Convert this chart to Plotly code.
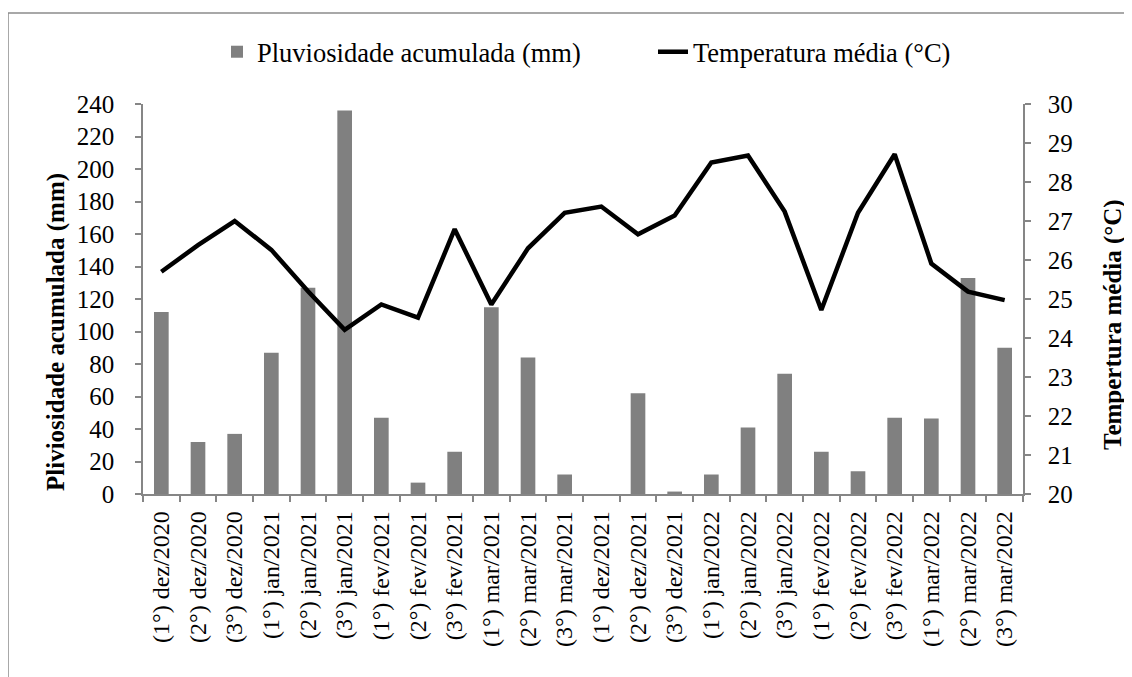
import plotly.graph_objects as go

categories = [
    "(1°) dez/2020", "(2°) dez/2020", "(3°) dez/2020",
    "(1°) jan/2021", "(2°) jan/2021", "(3°) jan/2021",
    "(1°) fev/2021", "(2°) fev/2021", "(3°) fev/2021",
    "(1°) mar/2021", "(2°) mar/2021", "(3°) mar/2021",
    "(1°) dez/2021", "(2°) dez/2021", "(3°) dez/2021",
    "(1°) jan/2022", "(2°) jan/2022", "(3°) jan/2022",
    "(1°) fev/2022", "(2°) fev/2022", "(3°) fev/2022",
    "(1°) mar/2022", "(2°) mar/2022", "(3°) mar/2022",
]
rain_mm = [112, 32, 37, 87, 127, 236, 47, 7, 26, 115, 84, 12,
           0, 62, 1.5, 12, 41, 74, 26, 14, 47, 46.5, 133, 90]
temp_c = [25.70, 26.38, 27.00, 26.26, 25.20, 24.21, 24.86, 24.52, 26.79, 24.86, 26.30, 27.21,
          27.37, 26.66, 27.14, 28.50, 28.68, 27.24, 24.72, 27.21, 28.71, 25.91, 25.19, 24.97]

left_ticks = list(range(0, 241, 20))
right_ticks = list(range(20, 31, 1))

FONT = "Liberation Serif, Times New Roman, serif"
AX = "#868686"

# page body has an 8px margin: work in reference (viewport) pixels, shift by OFF
OFF = 8
W, H = 1132 - OFF, 677 - OFF
L, T = 143 - OFF, 104 - OFF
R = W - (1023 - OFF)
B = H - (494 - OFF)
pw = W - L - R
ph = H - T - B

def px_x(x):
    return (x - OFF - L) / pw

def px_y(y):
    return (H - B - (y - OFF)) / ph

fig = go.Figure()
fig.add_trace(go.Bar(
    x=categories, y=rain_mm, name="Pluviosidade acumulada (mm)",
    marker=dict(color="#808080", line=dict(width=0)), width=0.4,
    yaxis="y",
))
fig.add_trace(go.Scatter(
    x=categories, y=temp_c, name="Temperatura média (°C)",
    mode="lines", line=dict(color="black", width=4.5),
    yaxis="y2",
))

fig.update_layout(
    width=W, height=H,
    margin=dict(l=L, r=R, t=T, b=B, autoexpand=False),
    paper_bgcolor="white", plot_bgcolor="white",
    font=dict(family=FONT, color="black", size=25),
    showlegend=True,
    legend=dict(
        orientation="h", x=px_x(217), xanchor="left", y=px_y(52), yanchor="middle",
        font=dict(family=FONT, size=26.5, color="black"),
        bgcolor="rgba(0,0,0,0)", traceorder="normal",
        itemwidth=30, entrywidth=391, entrywidthmode="pixels",
    ),
    xaxis=dict(
        type="category", tickangle=-90, tickson="boundaries",
        ticks="outside", ticklen=6, tickcolor=AX, tickwidth=1.5,
        showline=True, linecolor=AX, linewidth=1.5,
        showgrid=False, zeroline=False,
        tickfont=dict(family=FONT, size=24, color="black"),
        ticklabelstandoff=6,
        range=[-0.5, len(categories) - 0.5],
    ),
    yaxis=dict(
        range=[0, 240], tickvals=left_ticks,
        ticks="outside", ticklen=6, tickcolor=AX, tickwidth=1.5,
        showline=True, linecolor=AX, linewidth=1.5,
        showgrid=False, zeroline=False,
        tickfont=dict(family=FONT, size=25, color="black"),
        ticklabelstandoff=16,
    ),
    yaxis2=dict(
        range=[20, 30], tickvals=right_ticks,
        overlaying="y", side="right",
        ticks="outside", ticklen=6, tickcolor=AX, tickwidth=1.5,
        showline=True, linecolor=AX, linewidth=1.5,
        showgrid=False, zeroline=False,
        tickfont=dict(family=FONT, size=25, color="black"),
        ticklabelstandoff=12,
    ),
    bargap=0.6,
)

fig.add_annotation(
    text="<b>Pliviosidade acumulada (mm)</b>", textangle=-90,
    xref="paper", yref="paper", x=px_x(56), y=px_y(332),
    xanchor="center", yanchor="middle", showarrow=False,
    font=dict(family=FONT, size=25, color="black"),
)
fig.add_annotation(
    text="<b>Tempertura média (°C)</b>", textangle=-90,
    xref="paper", yref="paper", x=px_x(1129), y=px_y(325),
    xanchor="right", yanchor="middle", showarrow=False,
    font=dict(family=FONT, size=25, color="black"),
)

fig.add_shape(
    type="rect", xref="paper", yref="paper",
    x0=px_x(8), x1=px_x(1160), y0=px_y(13), y1=px_y(720),
    line=dict(color="#8c8c8c", width=1.5), fillcolor="rgba(0,0,0,0)",
    layer="below",
)

fig.write_html("out.html")
